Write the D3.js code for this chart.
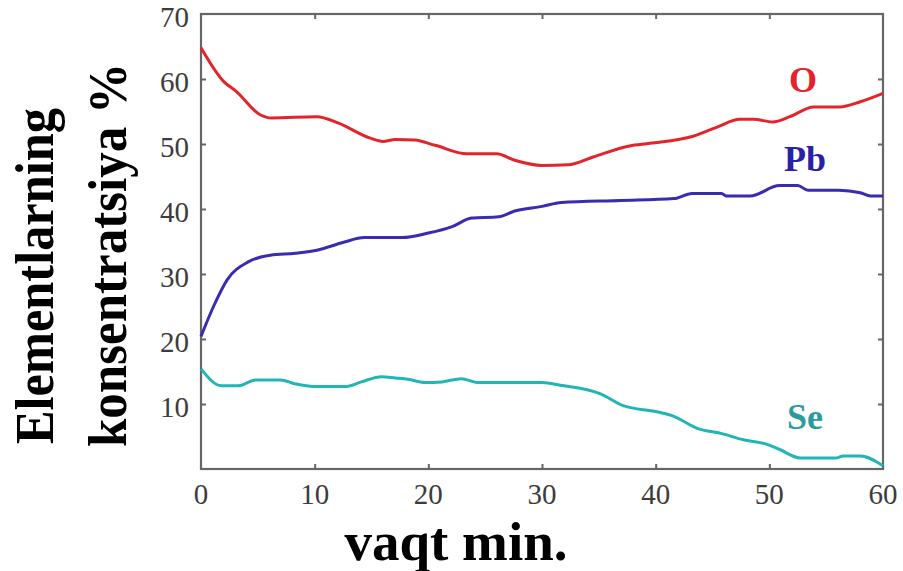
<!DOCTYPE html>
<html>
<head>
<meta charset="utf-8">
<script src="https://cdn.jsdelivr.net/npm/d3@7"></script>
<style>
  html, body { margin: 0; padding: 0; background: #fff; }
  svg { display: block; }
</style>
</head>
<body>
<svg id="chart" width="903" height="571"></svg>
<script>
// ---- data ----
const xTicks = [0, 10, 20, 30, 40, 50, 60];
const yTicks = [10, 20, 30, 40, 50, 60, 70];

const oTime   = [0, 2, 3.1, 5.2, 6.2, 10.2, 12.1, 14.9, 16, 17.1, 18.8, 20.6, 23.4, 26, 27.6, 30, 32.3, 34.5, 37.7, 39.5, 43.3, 45.4, 47.4, 48.6, 50.3, 51.8, 53.9, 56.2, 58, 60];
const oValues = [64.8, 59.6, 58.1, 54.5, 54.0, 54.2, 53.2, 50.9, 50.4, 50.7, 50.6, 49.8, 48.5, 48.5, 47.5, 46.7, 46.8, 48.0, 49.7, 50.1, 51.2, 52.6, 53.8, 53.8, 53.4, 54.2, 55.7, 55.7, 56.5, 57.8];

const pbTime   = [0, 1.1, 2.3, 4.2, 6.1, 8.3, 10.3, 12.4, 14.4, 17.7, 20, 22.1, 23.8, 26.2, 27.6, 30, 31.7, 36.9, 41.6, 43.2, 45.8, 46.2, 48.3, 50.9, 52.5, 53.4, 56.1, 58, 58.9, 60];
const pbValues = [20.4, 25.0, 29.1, 31.9, 32.9, 33.2, 33.7, 34.8, 35.6, 35.6, 36.3, 37.3, 38.6, 38.8, 39.7, 40.4, 41.0, 41.3, 41.6, 42.4, 42.4, 42.0, 42.0, 43.6, 43.6, 42.9, 42.9, 42.5, 42.0, 42.0];

const seTime   = [0, 1.8, 3.3, 4.8, 7, 8.3, 9.9, 12.8, 14.1, 15.9, 17.1, 18.2, 19.7, 21.2, 22.9, 24.4, 30, 31.6, 35.1, 37.2, 40.1, 41.6, 43.6, 45.9, 47.7, 49.8, 50.9, 52.7, 55.9, 56.5, 58, 60];
const seValues = [15.4, 12.8, 12.8, 13.7, 13.7, 13.1, 12.7, 12.7, 13.4, 14.2, 14.0, 13.8, 13.3, 13.4, 13.9, 13.3, 13.3, 12.9, 11.6, 9.7, 8.8, 8.1, 6.3, 5.4, 4.5, 3.8, 3.0, 1.7, 1.7, 2.0, 2.0, 0.5];

const seriesNames  = ["O", "Pb", "Se"];
const xTitle = "vaqt min.";
const yTitle1 = "Elementlarning";
const yTitle2 = "konsentratsiya %";

// ---- layout ----
const svg = d3.select("#chart");
const pLeft = 201, pRight = 883, pTop = 14, pBottom = 469;
const x = d3.scaleLinear().domain([0, 60]).range([pLeft, pRight]);
const y = d3.scaleLinear().domain([0, 70]).range([pBottom, pTop]);

const axisColor = "#666";
const tickColor = "#3c3c3c";
const serif = "'Liberation Serif', 'DejaVu Serif', serif";

svg.append("rect").attr("width", 903).attr("height", 571).attr("fill", "#fff");

// frame
svg.append("rect")
  .attr("x", pLeft).attr("y", pTop)
  .attr("width", pRight - pLeft).attr("height", pBottom - pTop)
  .attr("fill", "none").attr("stroke", axisColor).attr("stroke-width", 2.2);

// inward ticks using d3 axes
const tl = 5;
const inner = xTicks.slice(1, -1);
const innerY = yTicks.slice(0, -1);
function styleAxis(g) {
  g.select(".domain").remove();
  g.selectAll(".tick line").attr("stroke", axisColor).attr("stroke-width", 2);
  g.selectAll(".tick text").remove();
}
svg.append("g").attr("transform", `translate(0,${pBottom})`)
  .call(d3.axisTop(x).tickValues(inner).tickSize(tl)).call(styleAxis);
svg.append("g").attr("transform", `translate(0,${pTop})`)
  .call(d3.axisBottom(x).tickValues(inner).tickSize(tl)).call(styleAxis);
svg.append("g").attr("transform", `translate(${pLeft},0)`)
  .call(d3.axisRight(y).tickValues(innerY).tickSize(tl)).call(styleAxis);
svg.append("g").attr("transform", `translate(${pRight},0)`)
  .call(d3.axisLeft(y).tickValues(innerY).tickSize(tl)).call(styleAxis);

// tick labels
svg.append("g").selectAll("text").data(xTicks).join("text")
  .attr("x", d => x(d)).attr("y", 504)
  .attr("text-anchor", "middle")
  .attr("font-family", serif).attr("font-size", 29).attr("fill", tickColor)
  .text(d => d);
svg.append("g").selectAll("text").data(yTicks).join("text")
  .attr("x", 189).attr("y", d => y(d) + 13)
  .attr("text-anchor", "end")
  .attr("font-family", serif).attr("font-size", 29).attr("fill", tickColor)
  .text(d => d);

// lines
const series = [
  { name: seriesNames[0], t: oTime,  v: oValues,  line: "#e3242b", label: "#e5222b", lx: 803, ly: 92 },
  { name: seriesNames[1], t: pbTime, v: pbValues, line: "#3a2bb3", label: "#2a1fa6", lx: 805, ly: 171 },
  { name: seriesNames[2], t: seTime, v: seValues, line: "#22b5b6", label: "#2a9c9c", lx: 805, ly: 429 }
];
const lineGen = d3.line().x(d => x(d[0])).y(d => y(d[1])).curve(d3.curveMonotoneX);
series.forEach(s => {
  const pts = s.t.map((t, i) => [t, s.v[i]]);
  svg.append("path").datum(pts)
    .attr("d", lineGen)
    .attr("fill", "none").attr("stroke", s.line)
    .attr("stroke-width", 3).attr("stroke-linejoin", "round");
  svg.append("text")
    .attr("x", s.lx).attr("y", s.ly)
    .attr("text-anchor", "middle")
    .attr("font-family", serif).attr("font-weight", "bold")
    .attr("font-size", 36).attr("fill", s.label)
    .text(s.name);
});

// axis titles
svg.append("text")
  .attr("x", 456).attr("y", 560)
  .attr("text-anchor", "middle")
  .attr("font-family", serif).attr("font-weight", "bold")
  .attr("font-size", 55).attr("fill", "#000")
  .text(xTitle);

svg.append("text")
  .attr("transform", "translate(53,444) rotate(-90)")
  .attr("text-anchor", "start")
  .attr("font-family", serif).attr("font-weight", "bold")
  .attr("font-size", 55).attr("fill", "#000")
  .attr("textLength", 336).attr("lengthAdjust", "spacingAndGlyphs")
  .text(yTitle1);
svg.append("text")
  .attr("transform", "translate(126,447) rotate(-90)")
  .attr("text-anchor", "start")
  .attr("font-family", serif).attr("font-weight", "bold")
  .attr("font-size", 55).attr("fill", "#000")
  .attr("textLength", 384).attr("lengthAdjust", "spacingAndGlyphs")
  .text(yTitle2);
</script>
</body>
</html>
